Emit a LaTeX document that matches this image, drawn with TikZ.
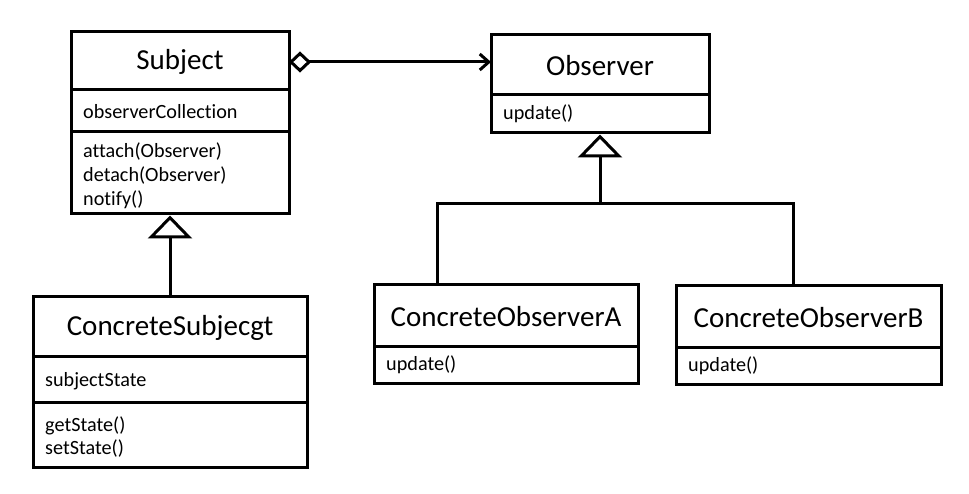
\documentclass[tikz,border=0pt]{standalone}
\usepackage{fontspec}
\setmainfont[Ligatures={NoCommon}]{Carlito}
\usetikzlibrary{arrows.meta}
\begin{document}
\begin{tikzpicture}[x=1pt,y=-1pt,
  box/.style={draw, line width=3pt, inner sep=0pt},
  divider/.style={line width=3pt},
  conn/.style={line width=3pt},
  titletext/.style={inner sep=0pt, font=\fontsize{29}{34}\selectfont},
  bodytext/.style={inner sep=0pt, anchor=west, font=\fontsize{20.2}{24}\selectfont},
  inherit/.style={conn, -{Triangle[open, width=44pt, length=23pt, line width=3pt]}},
]
\useasboundingbox (0,0) rectangle (969,494);
% boxes
\node[box, minimum width=218pt, minimum height=182pt] (subj) at (180,123) {};
\node[box, minimum width=218pt, minimum height=98pt] (obs) at (600,84) {};
\node[box, minimum width=274pt, minimum height=170pt] (cs) at (170,382) {};
\node[box, minimum width=264pt, minimum height=98pt] (coa) at (506,334) {};
\node[box, minimum width=265pt, minimum height=98pt] (cob) at (808.5,335) {};
% dividers
\draw[divider] (71,90) -- (289,90);
\draw[divider] (71,132) -- (289,132);
\draw[divider] (491,95) -- (709,95);
\draw[divider] (33,356) -- (307,356);
\draw[divider] (33,402) -- (307,402);
\draw[divider] (374,346) -- (638,346);
\draw[divider] (676,347) -- (941,347);
% titles
\node[titletext] (tsubj) at (180,62) {Subject};
\node[titletext] (tobs) at (600,66) {Observer};
\node[titletext] (tcs) at (170,328) {ConcreteSubjecgt};
\node[titletext] (tcoa) at (506,317) {ConcreteObserverA};
\node[titletext] (tcob) at (808.5,318) {ConcreteObserverB};
% body texts
\node[bodytext] (s1) at (83,112) {observerCollection};
\node[bodytext] (s2) at (83,152) {attach(Observer)};
\node[bodytext] (s3) at (83,176) {detach(Observer)};
\node[bodytext] (s4) at (83,200) {notify()};
\node[bodytext] (o1) at (503,114) {update()};
\node[bodytext] (c1) at (45,381) {subjectState};
\node[bodytext] (c2) at (45,426) {getState()};
\node[bodytext] (c3) at (45,449) {setState()};
\node[bodytext] (a1) at (386,365) {update()};
\node[bodytext] (b1) at (688,366) {update()};
% aggregation
\coordinate (aggS) at (291,62);
\coordinate (aggD) at (309,62);
\coordinate (aggO) at (491,62);
\draw[conn, line join=miter] (aggS) -- ++(9,-8.5) -- (aggD) -- ++(-9,8.5) -- cycle;
\draw[conn, -{Straight Barb[length=9pt, width=16pt, line width=3pt]}] (aggD) -- (aggO);
% inheritance Subject
\draw[inherit] (cs.north) -- (cs.north |- subj.south);
% inheritance Observer
\coordinate (jmid) at (600,204);
\coordinate (jl) at (437,204);
\coordinate (jr) at (793,204);
\coordinate (ja) at (437,285);
\coordinate (jb) at (793,286);
\draw[conn] (ja) -- (jl) -- (jr) -- (jb);
\draw[inherit] (jmid) -- (obs.south);
\end{tikzpicture}
\end{document}
